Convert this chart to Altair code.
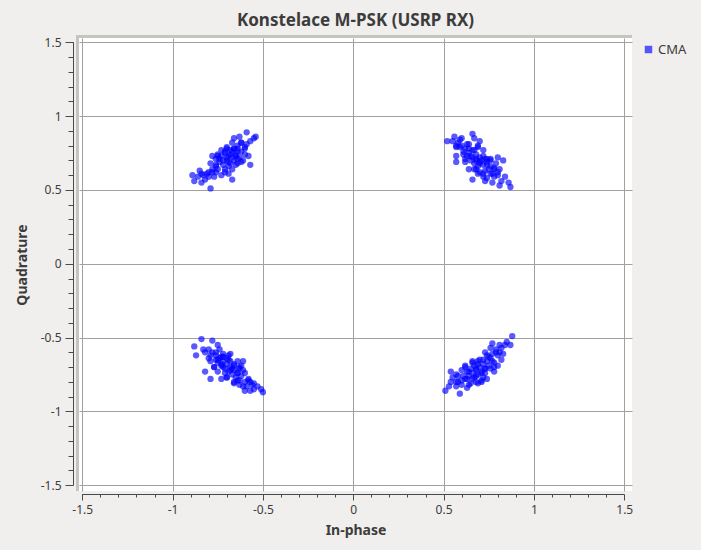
import altair as alt
import pandas as pd

# ---- constellation samples (In-phase / Quadrature) ----
tl_i = [-0.59, -0.54, -0.63, -0.66, -0.59, -0.62, -0.64, -0.67, -0.66, -0.60,
        -0.57, -0.62, -0.64, -0.67, -0.69, -0.67, -0.73, -0.76, -0.78, -0.76,
        -0.79, -0.76, -0.71, -0.73, -0.69, -0.70, -0.74, -0.72, -0.75, -0.78,
        -0.81, -0.83, -0.85, -0.86, -0.89, -0.88, -0.84, -0.82, -0.79, -0.80,
        -0.77, -0.71, -0.65, -0.64, -0.68, -0.65, -0.70, -0.75, -0.60, -0.68,
        -0.70, -0.68, -0.66, -0.72, -0.67, -0.71, -0.69, -0.65, -0.74, -0.63,
        -0.62, -0.60, -0.57, -0.55, -0.76, -0.78, -0.80, -0.84, -0.66, -0.64,
        -0.61, -0.58, -0.73, -0.75, -0.69, -0.71, -0.62, -0.67, -0.70, -0.64]
tl_q = [0.89, 0.86, 0.86, 0.85, 0.81, 0.82, 0.80, 0.82, 0.78, 0.74,
        0.67, 0.69, 0.71, 0.64, 0.61, 0.57, 0.60, 0.62, 0.73, 0.71,
        0.68, 0.67, 0.76, 0.73, 0.73, 0.70, 0.69, 0.67, 0.64, 0.62,
        0.61, 0.60, 0.63, 0.59, 0.60, 0.56, 0.55, 0.57, 0.51, 0.59,
        0.59, 0.62, 0.67, 0.76, 0.77, 0.73, 0.79, 0.74, 0.78, 0.68,
        0.72, 0.74, 0.70, 0.70, 0.72, 0.75, 0.69, 0.74, 0.71, 0.72,
        0.76, 0.79, 0.83, 0.85, 0.66, 0.64, 0.62, 0.61, 0.78, 0.68,
        0.70, 0.73, 0.77, 0.73, 0.66, 0.64, 0.82, 0.76, 0.78, 0.78]

tr_i = [0.52, 0.56, 0.60, 0.66, 0.67, 0.70, 0.69, 0.63, 0.59, 0.57,
        0.57, 0.57, 0.62, 0.65, 0.61, 0.64, 0.66, 0.72, 0.73, 0.77,
        0.80, 0.83, 0.80, 0.76, 0.72, 0.70, 0.74, 0.78, 0.81, 0.86,
        0.87, 0.68, 0.68, 0.67, 0.64, 0.72, 0.76, 0.80, 0.69, 0.74,
        0.66, 0.68, 0.70, 0.72, 0.74, 0.70, 0.64, 0.62, 0.60, 0.58,
        0.76, 0.78, 0.73, 0.69, 0.67, 0.65, 0.63, 0.71, 0.75, 0.77,
        0.79, 0.81, 0.68, 0.66, 0.61, 0.59, 0.57, 0.72, 0.74, 0.70,
        0.84, 0.82, 0.64, 0.69, 0.55, 0.73, 0.78, 0.67, 0.62, 0.76]
tr_q = [0.83, 0.86, 0.85, 0.88, 0.85, 0.83, 0.80, 0.81, 0.79, 0.80,
        0.73, 0.69, 0.69, 0.73, 0.74, 0.64, 0.57, 0.59, 0.56, 0.55,
        0.62, 0.70, 0.72, 0.71, 0.73, 0.69, 0.67, 0.64, 0.53, 0.55,
        0.52, 0.64, 0.71, 0.77, 0.78, 0.77, 0.61, 0.60, 0.61, 0.71,
        0.72, 0.70, 0.68, 0.67, 0.69, 0.72, 0.75, 0.78, 0.80, 0.82,
        0.66, 0.65, 0.63, 0.66, 0.68, 0.70, 0.73, 0.70, 0.64, 0.61,
        0.68, 0.64, 0.74, 0.77, 0.76, 0.84, 0.79, 0.61, 0.58, 0.62,
        0.59, 0.56, 0.81, 0.79, 0.83, 0.71, 0.59, 0.64, 0.71, 0.70]

bl_i = [-0.84, -0.78, -0.88, -0.83, -0.75, -0.87, -0.79, -0.82, -0.79, -0.73,
        -0.66, -0.59, -0.55, -0.51, -0.50, -0.58, -0.61, -0.61, -0.64, -0.68,
        -0.72, -0.75, -0.77, -0.72, -0.68, -0.64, -0.63, -0.70, -0.75, -0.66,
        -0.73, -0.69, -0.63, -0.76, -0.80, -0.55, -0.57, -0.60,
        -0.72, -0.70, -0.68, -0.66, -0.74, -0.76, -0.71, -0.69, -0.67, -0.65,
        -0.73, -0.75, -0.78, -0.80, -0.63, -0.64, -0.62, -0.60, -0.66, -0.70,
        -0.72, -0.68, -0.77, -0.79, -0.58, -0.56, -0.61, -0.53, -0.74, -0.82,
        -0.69, -0.71, -0.64, -0.62, -0.66, -0.73, -0.67, -0.76, -0.60, -0.57,
        -0.70, -0.63]
bl_q = [-0.51, -0.52, -0.56, -0.58, -0.55, -0.62, -0.62, -0.73, -0.78, -0.78,
        -0.81, -0.83, -0.81, -0.85, -0.87, -0.78, -0.72, -0.66, -0.66, -0.61,
        -0.63, -0.65, -0.70, -0.70, -0.72, -0.74, -0.79, -0.77, -0.73, -0.69,
        -0.68, -0.65, -0.70, -0.60, -0.64, -0.85, -0.80, -0.86,
        -0.66, -0.68, -0.70, -0.72, -0.64, -0.62, -0.71, -0.73, -0.75, -0.77,
        -0.69, -0.67, -0.60, -0.58, -0.71, -0.79, -0.76, -0.80, -0.68, -0.64,
        -0.61, -0.66, -0.70, -0.66, -0.79, -0.82, -0.83, -0.83, -0.58, -0.60,
        -0.62, -0.74, -0.74, -0.69, -0.80, -0.63, -0.71, -0.65, -0.74, -0.86,
        -0.77, -0.82]

br_i = [0.88, 0.84, 0.87, 0.81, 0.77, 0.76, 0.73, 0.83, 0.82, 0.80,
        0.78, 0.74, 0.69, 0.65, 0.59, 0.51, 0.54, 0.54, 0.57, 0.62,
        0.60, 0.64, 0.68, 0.69, 0.72, 0.75, 0.68, 0.63, 0.58, 0.73,
        0.77, 0.66, 0.71, 0.79, 0.57, 0.71,
        0.68, 0.70, 0.72, 0.66, 0.64, 0.62, 0.74, 0.76, 0.69, 0.71,
        0.73, 0.67, 0.65, 0.75, 0.63, 0.61, 0.60, 0.58, 0.77, 0.79,
        0.78, 0.70, 0.66, 0.68, 0.64, 0.72, 0.80, 0.82, 0.74, 0.62,
        0.69, 0.57, 0.55, 0.85, 0.71, 0.73, 0.60, 0.76, 0.66, 0.63,
        0.53, 0.81, 0.67, 0.78]
br_q = [-0.49, -0.55, -0.55, -0.55, -0.54, -0.57, -0.60, -0.61, -0.65, -0.69,
        -0.73, -0.78, -0.81, -0.81, -0.88, -0.86, -0.80, -0.73, -0.75, -0.69,
        -0.72, -0.73, -0.71, -0.66, -0.65, -0.63, -0.76, -0.78, -0.80, -0.71,
        -0.66, -0.67, -0.74, -0.60, -0.83, -0.80,
        -0.72, -0.70, -0.68, -0.74, -0.76, -0.78, -0.66, -0.64, -0.75, -0.73,
        -0.71, -0.69, -0.71, -0.69, -0.73, -0.76, -0.79, -0.76, -0.61, -0.58,
        -0.67, -0.65, -0.78, -0.80, -0.82, -0.77, -0.62, -0.57, -0.62, -0.70,
        -0.68, -0.80, -0.77, -0.53, -0.79, -0.74, -0.82, -0.71, -0.66, -0.84,
        -0.83, -0.60, -0.77, -0.70]

series_name = "CMA"
major_ticks = [-1.5, -1, -0.5, 0, 0.5, 1, 1.5]
minor_ticks = [-1.5, -1.4, -1.3, -1.2, -1.1, -1, -0.9, -0.8, -0.7, -0.6, -0.5,
               -0.4, -0.3, -0.2, -0.1, 0, 0.1, 0.2, 0.3, 0.4, 0.5, 0.6, 0.7,
               0.8, 0.9, 1, 1.1, 1.2, 1.3, 1.4, 1.5]

# ---- tables ----
df = pd.DataFrame({
    "I": tl_i + tr_i + bl_i + br_i,
    "Q": tl_q + tr_q + bl_q + br_q,
})
df["series"] = series_name
axis_df = pd.DataFrame({"lo": [major_ticks[0]], "hi": [major_ticks[-1]]})
one = pd.DataFrame({"a": [0]})

W, H = 553, 453
FONT = "Noto Sans"
TXT = "#3c3c3c"
AX = "#4a4a4a"

xscale = alt.Scale(domain=[-1.518, 1.543], nice=False, zero=False)
yscale = alt.Scale(domain=[-1.539, 1.529], nice=False, zero=False)

x_major = alt.Axis(values=major_ticks, labelExpr="datum.value + ''", orient="bottom",
                   grid=True, gridColor="#a0a0a0", gridWidth=1, domain=False,
                   tickSize=6, tickColor=AX, offset=3, labelPadding=4,
                   labelFont=FONT, labelFontSize=12, labelColor=TXT,
                   labelFlush=False, labelOverlap=False,
                   title="In-phase", titleFont=FONT, titleFontSize=14,
                   titleFontWeight="bold", titleColor=TXT, titlePadding=8)
y_major = alt.Axis(values=major_ticks, labelExpr="datum.value + ''", orient="left",
                   grid=True, gridColor="#a0a0a0", gridWidth=1, domain=False,
                   tickSize=8, tickColor=AX, offset=6, labelPadding=4,
                   labelFont=FONT, labelFontSize=12, labelColor=TXT,
                   labelFlush=False, labelOverlap=False,
                   title="Quadrature", titleFont=FONT, titleFontSize=14,
                   titleFontWeight="bold", titleColor=TXT, titlePadding=11)
x_minor = alt.Axis(values=minor_ticks, orient="bottom", labels=False, grid=False,
                   domain=False, tickSize=3, tickColor=AX, offset=3, title=None)
y_minor = alt.Axis(values=minor_ticks, orient="left", labels=False, grid=False,
                   domain=False, tickSize=5, tickColor=AX, offset=6, title=None)

points = alt.Chart(df).mark_circle(size=40, opacity=0.65).encode(
    x=alt.X("I:Q", scale=xscale, axis=x_major),
    y=alt.Y("Q:Q", scale=yscale, axis=y_major),
    color=alt.Color("series:N",
                    scale=alt.Scale(domain=[series_name], range=["#0000ff"]),
                    legend=alt.Legend(title=None, orient="none", legendX=563, legendY=5,
                                      symbolType="square", symbolSize=56,
                                      symbolOpacity=0.65, symbolStrokeWidth=0,
                                      labelFont=FONT, labelFontSize=13,
                                      labelColor=TXT, labelOffset=3, padding=0)),
)

x_line = alt.Chart(axis_df).mark_rule(color=AX, strokeWidth=1).encode(
    x=alt.X("lo:Q", scale=xscale, axis=x_minor),
    x2="hi:Q",
    y=alt.value(H + 3.5),
)
y_line = alt.Chart(axis_df).mark_rule(color=AX, strokeWidth=1).encode(
    y=alt.Y("lo:Q", scale=yscale, axis=y_minor),
    y2="hi:Q",
    x=alt.value(-5.5),
)
frame_left = alt.Chart(one).mark_rule(color="#c6c4c1", strokeWidth=3).encode(
    x=alt.value(-1.5), y=alt.value(-3), y2=alt.value(H))
frame_top = alt.Chart(one).mark_rule(color="#c6c4c1", strokeWidth=3).encode(
    y=alt.value(-1.5), x=alt.value(-3), x2=alt.value(W))

chart = alt.layer(frame_left, frame_top, points, x_line, y_line).resolve_axis(
    x="independent", y="independent"
).properties(
    width=W, height=H,
    autosize=alt.AutoSizeParams(type="none"),
    padding={"left": 79, "top": 38, "right": 69, "bottom": 59},
    background="#f0efed",
    title=alt.TitleParams("Konstelace M-PSK (USRP RX)", font=FONT, fontSize=17,
                          fontWeight="bold", color=TXT, anchor="middle", offset=4),
).configure_view(stroke=None, fill="white")

chart.save("out.html", embed_options={"renderer": "svg", "actions": False})
